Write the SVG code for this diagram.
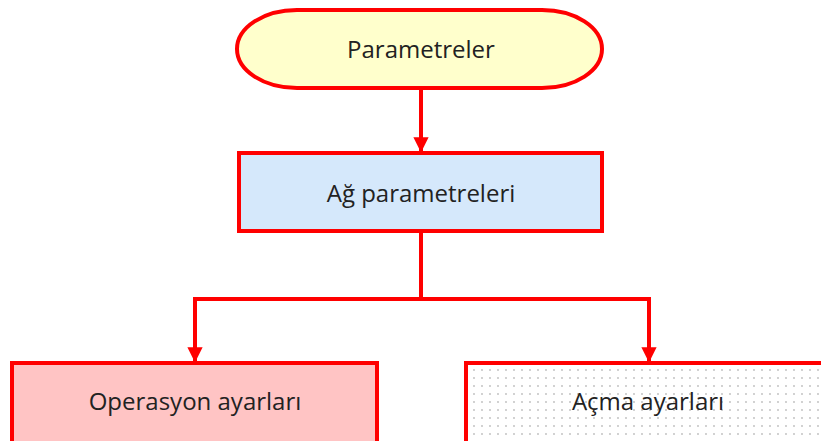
<svg xmlns="http://www.w3.org/2000/svg" width="821" height="441" viewBox="0 0 821 441">
<style>
.n{stroke:#ff0000;stroke-width:4}
.c{fill:none;stroke:#ff0000;stroke-width:4}
.t{font-family:"Open Sans","Noto Sans",sans-serif;font-size:24px;fill:#222222;text-anchor:middle}
</style>
<defs>
<marker id="a" viewBox="0 0 10 10" refX="9" refY="5" markerWidth="3.8" markerHeight="3.8" markerUnits="strokeWidth" orient="auto">
<path d="M0,0 L10,5 L0,10 z" fill="#ff0000"/>
</marker>
<pattern id="dots" width="8" height="8" patternUnits="userSpaceOnUse">
<rect width="8" height="8" fill="#ffffff"/>
<circle cx="2" cy="2" r="0.9" fill="#bdbdbd"/>
</pattern>
</defs>
<rect width="821" height="441" fill="#ffffff"/>
<g id="connectors">
<path class="c" d="M421,89 L421,151" marker-end="url(#a)"/>
<path class="c" d="M421,231 L421,299 L195,299 L195,361" marker-end="url(#a)"/>
<path class="c" d="M421,299 L649,299 L649,361" marker-end="url(#a)"/>
</g>
<g id="parametreler">
<rect class="n" x="237" y="10" width="365" height="78" rx="60" ry="39" fill="#ffffcc"/>
<text class="t" x="421" y="58">Parametreler</text>
</g>
<g id="ag-parametreleri">
<rect class="n" x="239" y="153" width="363" height="78" fill="#d5e8fb"/>
<text class="t" x="421" y="202">Ağ parametreleri</text>
</g>
<g id="operasyon-ayarlari">
<rect class="n" x="12" y="363" width="365" height="90" fill="#ffc4c4"/>
<text class="t" x="195" y="410">Operasyon ayarları</text>
</g>
<g id="acma-ayarlari">
<rect class="n" x="466" y="363" width="370" height="90" fill="url(#dots)"/>
<text class="t" x="648" y="410">Açma ayarları</text>
</g>
</svg>
